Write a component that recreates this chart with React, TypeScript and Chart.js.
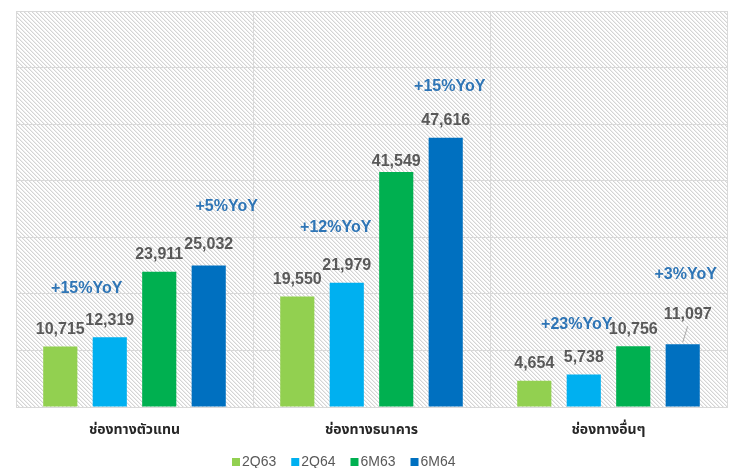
import React, { useEffect, useRef } from "react";
import { Chart, registerables } from "chart.js";

Chart.register(...registerables);

// ---- data ----
const categories = ["ช่องทางตัวแทน", "ช่องทางธนาคาร", "ช่องทางอื่นๆ"];
const seriesNames = ["2Q63", "2Q64", "6M63", "6M64"];
const values2Q63 = [10715, 19550, 4654];
const values2Q64 = [12319, 21979, 5738];
const values6M63 = [23911, 41549, 10756];
const values6M64 = [25032, 47616, 11097];
const yoy2Q = ["+15%YoY", "+12%YoY", "+23%YoY"];
const yoy6M = ["+5%YoY", "+15%YoY", "+3%YoY"];
const yMax = 70000;
const yStep = 10000;

// ---- styles ----
const colors = ["#92D050", "#00B0F0", "#00B050", "#0070C0"];
const gridColor = "#d9d9d9";
const labelFont = "bold 16px 'Liberation Sans', Arial, sans-serif";
const legendFont = "14px 'Liberation Sans', Arial, sans-serif";
// per-label nudges [dx, extra lift] keyed "dataset-category"
const valueNudge: Record<string, [number, number]> = {
  "2-1": [0, -7],
  "3-0": [0, 4],
  "3-2": [5, 13],
};
const leaderLines = ["3-2"];
// yoy anchors: [dx from bar centre, lift above bar top]
const yoy2QPos: [number, number][] = [[-23, 49], [-11, 55], [-7, 50]];
const yoy6MPos: [number, number][] = [[18, 59], [4, 51], [3, 70]];

const fmt = (v: number) => v.toLocaleString("en-US");

const hatchPlugin = {
  id: "hatch",
  beforeDraw(chart: any) {
    const { ctx, chartArea } = chart;
    const { left, top, right, bottom } = chartArea;
    const p = document.createElement("canvas");
    p.width = 4;
    p.height = 4;
    const pc = p.getContext("2d")!;
    const img = pc.createImageData(4, 4);
    for (let y = 0; y < 4; y++) {
      for (let x = 0; x < 4; x++) {
        const m = (((x - y) % 4) + 4) % 4;
        const c = m === 0 ? 212 : m === 1 ? 238 : 255;
        const i = (y * 4 + x) * 4;
        img.data[i] = c;
        img.data[i + 1] = c;
        img.data[i + 2] = c;
        img.data[i + 3] = 255;
      }
    }
    pc.putImageData(img, 0, 0);
    ctx.save();
    ctx.fillStyle = ctx.createPattern(p, "repeat");
    ctx.fillRect(left, top, right - left, bottom - top);
    ctx.restore();
  },
};

const labelsPlugin = {
  id: "labels",
  afterDatasetsDraw(chart: any) {
    const { ctx } = chart;
    ctx.save();
    ctx.textAlign = "center";
    ctx.textBaseline = "middle";
    ctx.font = labelFont;
    chart.data.datasets.forEach((ds: any, di: number) => {
      const meta = chart.getDatasetMeta(di);
      meta.data.forEach((el: any, ci: number) => {
        const key = `${di}-${ci}`;
        const [dx, dy] = valueNudge[key] || [0, 0];
        const x = el.x + dx;
        const y = el.y - 17 - dy;
        ctx.fillStyle = "#595959";
        ctx.fillText(fmt(ds.data[ci]), x, y);
        if (leaderLines.includes(key)) {
          ctx.strokeStyle = "#a6a6a6";
          ctx.lineWidth = 1;
          ctx.beginPath();
          ctx.moveTo(x, y + 12);
          ctx.lineTo(el.x, el.y - 2);
          ctx.stroke();
        }
      });
    });
    ctx.fillStyle = "#2E75B6";
    const m1 = chart.getDatasetMeta(1);
    const m3 = chart.getDatasetMeta(3);
    yoy2Q.forEach((t, ci) => {
      const el = m1.data[ci];
      ctx.fillText(t, el.x + yoy2QPos[ci][0], el.y - yoy2QPos[ci][1]);
    });
    yoy6M.forEach((t, ci) => {
      const el = m3.data[ci];
      ctx.fillText(t, el.x + yoy6MPos[ci][0], el.y - yoy6MPos[ci][1]);
    });
    ctx.restore();
  },
};

const legendPlugin = {
  id: "customLegend",
  afterDraw(chart: any) {
    const { ctx } = chart;
    ctx.save();
    ctx.font = legendFont;
    ctx.textBaseline = "middle";
    ctx.textAlign = "left";
    let x = 232;
    const y = 462;
    chart.data.datasets.forEach((ds: any) => {
      ctx.fillStyle = ds.backgroundColor;
      ctx.fillRect(x, y - 4, 8, 8);
      ctx.fillStyle = "#595959";
      ctx.fillText(ds.label, x + 10, y);
      x += 10 + ctx.measureText(ds.label).width + 15;
    });
    ctx.restore();
  },
};

export default function App() {
  const ref = useRef<HTMLCanvasElement>(null);
  useEffect(() => {
    const seriesValues = [values2Q63, values2Q64, values6M63, values6M64];
    const chart = new Chart(ref.current!, {
      type: "bar",
      data: {
        labels: categories,
        datasets: seriesNames.map((n, i) => ({
          label: n,
          data: seriesValues[i],
          backgroundColor: colors[i],
          categoryPercentage: 0.835,
          barPercentage: 0.69,
        })),
      },
      options: {
        animation: false,
        responsive: false,
        maintainAspectRatio: false,
        layout: { padding: { left: 16, right: 8, top: 11, bottom: 0 } },
        plugins: {
          legend: { display: false },
          tooltip: { enabled: false },
        },
        scales: {
          x: {
            grid: { color: gridColor, offset: true, drawTicks: false, lineWidth: 1 },
            border: { color: gridColor },
            ticks: {
              color: "#262626",
              padding: 16,
              font: { family: "'Noto Sans Thai', 'Noto Sans', 'Liberation Sans', sans-serif", size: 14, weight: "bold" },
            },
            afterFit: (s: any) => {
              s.height = 61;
            },
          },
          y: {
            min: 0,
            max: yMax,
            grid: { color: gridColor, drawTicks: false },
            border: { display: false },
            ticks: { display: false, stepSize: yStep },
            afterFit: (s: any) => {
              s.width = 0;
            },
          },
        },
      },
      plugins: [hatchPlugin, labelsPlugin, legendPlugin],
    });
    return () => chart.destroy();
  }, []);
  return (
    <div style={{ position: "fixed", left: 0, top: 0, width: 735, height: 468, background: "#fff" }}>
      <canvas ref={ref} width={735} height={468} style={{ width: 735, height: 468 }} />
    </div>
  );
}
